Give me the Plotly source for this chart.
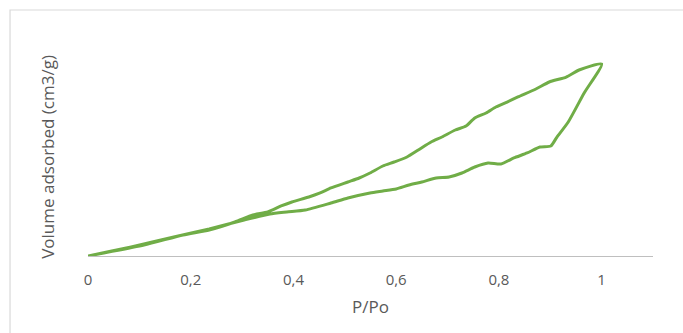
import plotly.graph_objects as go

# Relative pressure (P/Po) and adsorbed volume for the two branches of the isotherm
ads_p = [0.0, 0.084, 0.167, 0.236, 0.304, 0.354, 0.387, 0.423, 0.473, 0.506, 0.549,
         0.574, 0.600, 0.625, 0.650, 0.678, 0.703, 0.728, 0.753, 0.779, 0.804, 0.829,
         0.855, 0.880, 0.901, 0.913, 0.935, 0.966, 1.0]
ads_v = [0.0, 1.88, 3.96, 5.63, 7.5, 8.75, 9.17, 9.58, 11.04, 12.08, 13.13,
         13.54, 13.96, 14.79, 15.42, 16.25, 16.46, 17.29, 18.54, 19.38, 19.17, 20.42,
         21.46, 22.71, 22.92, 24.79, 27.92, 33.96, 40.0]

des_p = [1.0, 0.956, 0.931, 0.898, 0.872, 0.837, 0.816, 0.794, 0.775, 0.753, 0.736,
         0.715, 0.689, 0.668, 0.643, 0.621, 0.596, 0.574, 0.549, 0.528, 0.506, 0.473,
         0.452, 0.430, 0.397, 0.376, 0.350, 0.321, 0.286, 0.236, 0.185, 0.109, 0.0]
des_v = [40.0, 38.75, 37.29, 36.25, 34.79, 33.13, 32.08, 31.04, 29.79, 28.75, 27.08,
         26.25, 24.79, 23.75, 22.08, 20.63, 19.58, 18.75, 17.29, 16.25, 15.42, 14.17,
         13.13, 12.29, 11.25, 10.42, 9.17, 8.54, 7.08, 5.42, 4.38, 2.29, 0.0]

x_ticks = [0, 0.2, 0.4, 0.6, 0.8, 1]

GREEN = "#70AD47"
GREY_TEXT = "#595959"
FONT = "Open Sans"

fig = go.Figure()
fig.add_trace(go.Scatter(x=ads_p + des_p[1:], y=ads_v + des_v[1:], mode="lines",
                         line=dict(color=GREEN, width=3, shape="spline", smoothing=0.6),
                         hoverinfo="skip", showlegend=False))

fig.update_layout(
    width=683, height=333,
    margin=dict(l=88, r=30, t=40, b=77),
    paper_bgcolor="white", plot_bgcolor="white",
    separators=", ",
    font=dict(family=FONT, color=GREY_TEXT, size=14),
    xaxis=dict(range=[0, 1.1], tickvals=x_ticks, ticks="", showgrid=False,
               zeroline=False, showline=True, linecolor="#bfbfbf", linewidth=1.3,
               color=GREY_TEXT,
               tickfont=dict(size=15, color=GREY_TEXT, family=FONT),
               ticklabelstandoff=10, fixedrange=True),
    yaxis=dict(range=[0, 45], showticklabels=False, ticks="", showgrid=False,
               zeroline=False, showline=False, fixedrange=True),
    shapes=[dict(type="rect", xref="paper", yref="paper",
                 x0=-0.138, x1=1.2, y0=-0.5, y1=1.139,
                 line=dict(color="#d9d9d9", width=1.2), layer="below")],
    annotations=[
        dict(text="P/Po", xref="paper", yref="paper", x=0.5, y=-0.236,
             showarrow=False, xanchor="center", yanchor="middle",
             font=dict(size=17, color=GREY_TEXT, family=FONT)),
        dict(text="Volume adsorbed (cm3/g)", xref="paper", yref="paper",
             x=-0.073, y=0.458, textangle=-90, showarrow=False,
             xanchor="center", yanchor="middle",
             font=dict(size=17, color=GREY_TEXT, family=FONT)),
    ],
)

fig.write_html("out.html")
